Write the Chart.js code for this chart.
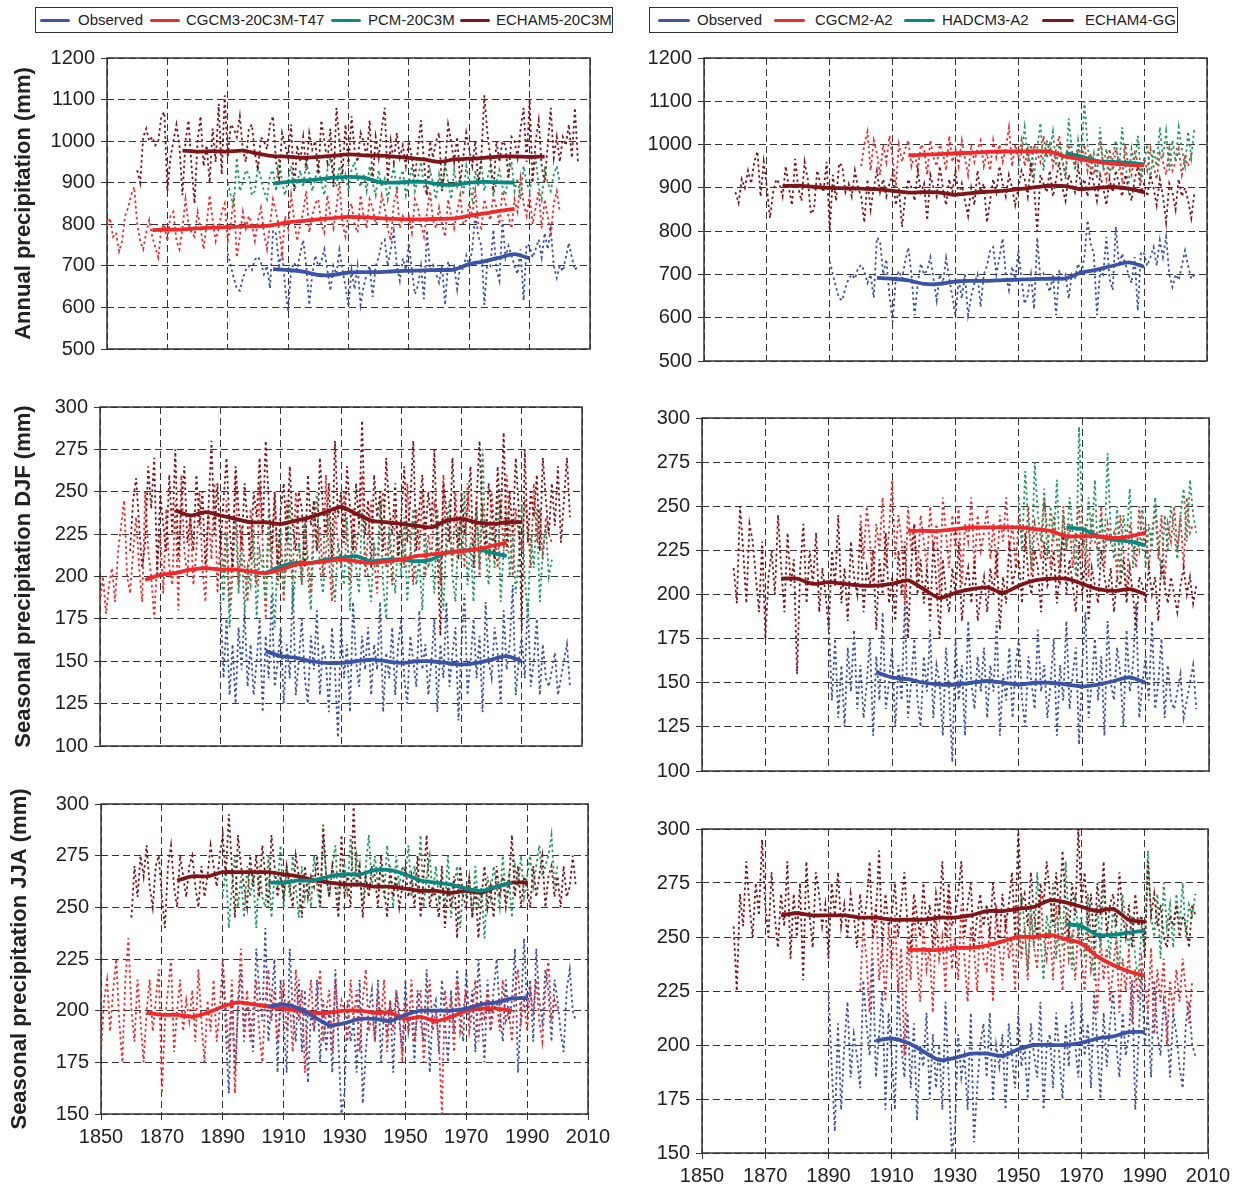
<!DOCTYPE html>
<html>
<head>
<meta charset="utf-8">
<script src="https://cdn.jsdelivr.net/npm/chart.js@4.4.0/dist/chart.umd.min.js"></script>
<style>
  body { margin: 0; background: #fff; width: 1240px; height: 1187px; position: relative; overflow: hidden;
         font-family: "Liberation Sans", Arial, sans-serif; }
  .legend { position: absolute; top: 7px; height: 26px; border: 1px solid #333; box-sizing: border-box; }
  .ln { position: absolute; top: 11px; height: 3px; border-radius: 2px; }
  .tx { position: absolute; top: 3px; font-size: 15px; line-height: 18px; color: #222; white-space: nowrap; }
  canvas { position: absolute; }
</style>
</head>
<body>

<div class="legend" style="left:35px;width:578px;">
  <div class="ln" style="left:4px;width:30px;background:#3d55a7"></div><div class="tx" style="left:42px">Observed</div>
  <div class="ln" style="left:114px;width:30px;background:#ee2a2a"></div><div class="tx" style="left:150px">CGCM3-20C3M-T47</div>
  <div class="ln" style="left:295px;width:30px;background:#0b8782"></div><div class="tx" style="left:332px">PCM-20C3M</div>
  <div class="ln" style="left:424px;width:30px;background:#801518"></div><div class="tx" style="left:460px">ECHAM5-20C3M</div>
</div>
<div class="legend" style="left:649px;width:529px;">
  <div class="ln" style="left:8px;width:32px;background:#3d55a7"></div><div class="tx" style="left:47px">Observed</div>
  <div class="ln" style="left:124px;width:31px;background:#ee2a2a"></div><div class="tx" style="left:165px">CGCM2-A2</div>
  <div class="ln" style="left:254px;width:31px;background:#0b8782"></div><div class="tx" style="left:292px">HADCM3-A2</div>
  <div class="ln" style="left:392px;width:32px;background:#801518"></div><div class="tx" style="left:435px">ECHAM4-GG</div>
</div>

<script>
// x axis: years
const yearMin = 1850, yearMax = 2010, yearStep = 20;

// first year of each annual series, first year of each 30-yr smoothed series (5-yr spacing)
const obsStart = 1890, obsSmoothStart = 1905;
const cgcm3Start = 1850, cgcm3SmoothStart = 1865;
const pcmStart = 1890, pcmSmoothStart = 1905;
const echam5Start = 1860, echam5SmoothStart = 1875;
const cgcm2Start = 1900, cgcm2SmoothStart = 1915;
const hadcm3Start = 1950, hadcm3SmoothStart = 1965;
const echam4Start = 1860, echam4SmoothStart = 1875;

// ---------- observed (same in both columns) ----------
const obsAnnual = [
  730,700,670,645,640,670,690,700,690,715,
  722,708,680,700,646,785,777,700,735,650,
  590,690,708,690,730,762,700,606,680,725,
  700,710,740,690,640,700,680,738,690,650,
  602,690,644,700,606,650,679,700,625,700,
  720,755,763,700,740,783,700,664,718,690,
  755,690,632,652,700,620,785,690,702,680,
  660,700,606,710,690,700,644,700,690,725,
  700,740,825,771,748,606,710,700,787,690,
  664,810,720,748,725,700,680,740,617,752,
  748,720,740,763,720,779,740,787,700,671,
  700,687,720,755,720,690,700];
const obsAnnualSmooth = [692,690,686,678,678,684,685,685,687,688,689,690,691,704,711,720,728,718];

const obsDJF = [
  185,140,175,130,160,125,170,145,180,135,
  160,130,150,175,120,165,140,190,135,150,
  170,125,160,140,195,130,150,175,140,125,
  165,145,180,130,160,150,120,170,145,105,
  175,140,160,120,185,150,135,165,145,170,
  130,160,145,185,120,155,140,170,130,160,
  175,140,125,165,150,135,180,145,160,130,
  150,175,120,160,140,185,135,155,170,115,
  160,190,130,150,175,140,165,120,185,150,
  140,170,155,125,180,145,160,195,130,150,
  165,140,185,135,150,175,130,160,140,135,
  145,155,130,140,150,160,135];
const obsDJFSmooth = [156,153,152,150,149,149,150,151,150,149,150,150,149,148,149,151,153,150];

const obsJJA = [
  225,190,160,210,170,200,220,185,205,195,
  180,230,210,195,240,185,205,225,170,215,
  195,170,230,200,185,215,180,210,165,200,
  190,215,175,205,180,200,170,220,185,150,
  160,205,185,195,170,215,155,180,200,210,
  185,215,175,200,190,205,170,210,195,180,
  215,190,200,175,210,195,185,220,170,200,
  205,180,215,195,175,210,190,220,200,185,
  220,195,210,180,225,200,175,215,190,210,
  225,200,185,215,195,205,230,170,200,235,
  200,215,185,230,205,195,220,210,185,215,
  205,190,180,210,220,200,195];
const obsJJASmooth = [202,203,201,197,193,194,196,196,195,198,200,200,200,201,203,204,206,206];

// ---------- left column: 20C3M runs ----------
const cgcm3Annual = [
  795,815,770,780,735,760,820,840,870,890,
  800,760,740,780,810,770,745,720,790,800,
  760,820,830,760,740,790,860,800,780,770,
  830,790,740,800,870,810,760,790,830,850,
  760,800,870,720,770,830,790,820,800,760,
  810,840,780,740,800,860,830,790,730,820,
  790,870,810,760,800,830,880,780,820,850,
  860,800,780,870,820,790,840,900,800,770,
  830,850,800,780,870,820,790,860,840,800,
  810,870,840,790,760,850,880,790,820,810,
  820,780,860,840,800,770,830,880,810,790,
  840,800,770,860,820,790,830,870,800,810,
  850,820,880,800,790,860,830,810,870,840,
  800,880,850,820,790,860,830,910,850,820,
  870,800,840,880,790,860,820,770,850,880,
  830];
const cgcm3AnnualSmooth = [786,787,788,790,792,793,795,795,798,805,808,812,815,818,817,815,813,812,812,813,814,820,826,832,837];

const pcmAnnual = [
  900,870,840,960,880,900,930,920,870,880,
  940,910,880,860,920,930,880,960,900,870,
  910,940,880,900,930,890,950,920,880,910,
  940,900,870,930,960,910,890,940,900,920,
  880,930,950,910,890,920,880,940,900,870,
  930,890,910,860,900,940,880,910,930,870,
  900,940,880,910,950,890,870,930,900,860,
  920,880,950,900,860,930,890,910,870,940,
  900,860,930,890,950,880,910,940,870,900,
  930,890,870,920,950,880,910,860,940,900,
  880,920,960,890,860,930,900,880,920,940,
  900];
const pcmAnnualSmooth = [898,902,905,908,912,914,912,902,900,902,902,896,895,900,902,901,900];

const echam5Annual = [
  930,900,1010,1030,1000,1010,990,1000,1060,1070,
  880,960,1000,1040,990,870,1000,1050,940,850,
  1000,1060,940,990,900,1030,950,1090,920,1110,
  960,1040,1030,1010,1060,980,950,1030,1040,970,
  930,1010,1000,980,1040,1060,950,910,1020,990,
  960,1040,880,990,950,1010,930,1020,980,1000,
  920,1050,1000,950,1030,890,1080,1000,920,1040,
  940,1060,980,950,1020,1000,960,1050,900,1010,
  960,1030,1080,900,1000,950,1020,960,990,940,
  1000,960,910,980,1050,950,870,1000,960,1000,
  1020,880,940,1040,1000,950,1010,900,960,1020,
  980,940,1000,900,960,1110,1020,960,880,1000,
  950,1000,990,910,1010,1000,960,1030,1080,950,
  1100,900,1000,1050,940,900,990,1080,960,1010,
  950,1010,990,1040,960,1080,950];
const echam5AnnualSmooth = [977,975,976,975,977,970,964,963,960,962,965,968,966,965,963,960,956,950,956,958,960,963,963,962,963];

const cgcm3DJF = [
  185,200,178,195,205,185,215,230,245,200,
  190,215,235,205,185,250,215,200,175,210,
  225,190,240,205,195,245,180,260,215,200,
  235,195,215,250,205,185,240,210,255,190,
  225,200,245,180,215,260,195,230,205,185,
  240,210,195,255,220,175,230,205,250,195,
  220,185,245,210,200,250,225,195,235,210,
  190,245,215,230,200,260,210,185,240,220,
  205,250,225,195,240,215,230,260,200,225,
  245,210,190,235,250,205,225,195,240,215,
  230,205,255,220,195,240,215,250,200,225,
  210,245,225,195,260,215,230,205,250,220,
  235,205,255,225,215,245,200,240,230,210,
  250,225,205,245,215,260,230,200,240,225,
  215,245,230,205,255,220,240,210,235,225,
  220];
const cgcm3DJFSmooth = [198,201,202,204,205,204,204,203,202,204,207,208,209,210,209,208,209,210,212,213,214,215,216,218,220];

const pcmDJF = [
  210,185,225,170,200,235,190,215,180,205,
  195,230,175,215,205,185,240,200,170,215,
  225,190,210,245,180,205,220,195,235,200,
  180,225,250,205,190,215,240,200,185,220,
  210,195,235,180,225,205,190,240,215,200,
  185,220,205,245,195,175,230,210,190,225,
  200,235,185,215,240,195,210,180,225,205,
  215,190,240,205,180,225,245,200,185,230,
  210,250,195,220,185,240,205,275,215,195,
  230,205,250,185,215,240,200,225,190,210,
  245,200,175,225,205,240,185,215,230,200,
  210];
const pcmDJFSmooth = [202,206,208,208,210,211,212,209,210,210,209,210,214,215,216,214,212];

const echam5DJF = [
  215,245,258,230,205,220,265,240,270,200,
  250,230,215,260,225,275,210,240,265,220,
  235,215,260,230,250,205,240,280,225,255,
  215,245,270,230,205,265,240,215,255,230,
  210,250,235,270,225,280,245,215,250,205,
  240,255,220,265,230,215,250,240,205,260,
  230,245,215,270,240,225,255,210,280,235,
  250,220,265,240,215,255,230,292,225,245,
  205,260,235,250,215,270,240,225,255,210,
  235,265,220,245,280,215,240,260,225,250,
  230,275,215,165,255,240,220,270,235,210,
  250,225,240,265,205,245,280,230,215,255,
  240,210,265,230,285,215,250,225,270,240,
  168,275,220,250,235,260,215,270,245,225,
  255,230,265,220,245,270,235];
const echam5DJFSmooth = [239,236,238,236,234,232,232,231,233,235,238,241,237,233,232,231,230,229,233,234,232,231,232,232];

const cgcm3JJA = [
  180,205,215,190,210,225,195,175,215,235,
  200,185,215,195,175,200,215,190,205,220,
  160,195,210,225,180,200,215,190,205,195,
  210,185,220,195,175,205,190,215,185,200,
  225,200,180,215,160,205,230,190,210,185,
  200,215,190,175,205,220,195,210,185,200,
  215,190,205,180,220,195,210,170,200,215,
  190,205,220,185,200,210,180,215,195,205,
  200,185,215,195,210,180,205,220,190,200,
  185,210,195,215,180,205,190,210,200,175,
  205,190,215,185,200,210,175,195,215,190,
  200,185,150,210,195,205,180,215,190,200,
  210,190,200,215,185,205,195,210,190,200,
  205,190,215,195,200,185,210,220,195,205,
  190,210,200,215,195,185,210,225,195,205,
  200];
const cgcm3JJASmooth = [199,198,198,197,199,202,204,203,202,201,200,199,199,200,200,199,199,196,197,195,197,200,201,201,200];

const pcmJJA = [
  255,270,240,260,275,250,265,245,270,255,
  265,240,270,255,250,275,245,265,260,280,
  250,270,255,275,260,245,270,255,265,250,
  275,260,250,285,265,255,270,280,250,265,
  270,255,285,260,275,265,250,270,285,260,
  275,260,270,255,280,265,250,275,260,270,
  265,280,255,270,260,285,250,265,275,255,
  270,255,265,250,275,245,260,270,240,260,
  255,265,245,270,250,260,235,265,255,270,
  260,250,275,255,265,245,270,260,275,255,
  265,275,260,270,280,265,270,275,285,260,
  270];
const pcmJJASmooth = [262,262,263,263,265,266,266,268,268,266,263,262,261,259,258,260,262];

const echam5JJA = [
  245,270,255,275,265,280,260,250,270,275,
  255,240,270,280,260,250,275,265,255,270,
  275,260,250,270,255,265,280,270,260,275,
  285,265,295,270,245,285,270,260,250,275,
  260,275,255,280,265,250,285,270,255,265,
  255,270,260,250,275,265,245,270,255,265,
  260,275,250,290,265,255,270,260,245,285,
  255,265,250,300,260,270,245,265,255,270,
  265,250,275,260,245,270,255,265,250,260,
  270,255,265,250,275,245,265,285,250,260,
  255,245,270,240,260,250,265,235,270,255,
  250,265,245,260,235,255,270,250,260,245,
  270,255,265,250,260,285,255,270,250,265,
  260,250,270,255,265,275,250,265,270,255,
  265,250,270,255,260,275,260];
const echam5JJASmooth = [263,265,265,267,267,267,267,266,265,263,262,261,261,260,260,259,258,258,257,258,257,260,262,262];

// ---------- right column: A2 / GG runs ----------
const cgcm2Annual = [
  950,1000,1030,940,1010,980,930,1000,960,1020,
  970,900,1000,960,990,1010,950,980,940,1000,
  990,930,1010,970,950,1000,980,940,1020,960,
  990,950,1010,970,930,1000,960,990,1010,950,
  980,940,1010,970,1000,960,990,1040,950,1000,
  970,1010,950,990,940,1000,980,960,1020,970,
  1000,950,990,1020,960,930,1000,970,950,990,
  960,1000,940,980,930,970,1010,950,920,990,
  940,990,960,920,1000,950,930,980,960,910,
  970,940,990,950,920,980,960,930,990,940,
  960,990,930,970,950,980];
const cgcm2AnnualSmooth = [975,977,978,980,981,983,984,984,985,984,972,966,960,956,953,952];

const hadcm3Annual = [
  950,980,1040,960,1000,930,990,1050,940,1010,
  980,1030,950,1000,970,920,1060,990,940,1010,
  960,1100,1000,940,980,920,1040,950,990,930,
  970,1010,940,1040,960,900,990,950,1020,930,
  960,1000,920,990,950,1040,970,1030,940,1010,
  960,1040,990,950,1030,970,1040];
const hadcm3AnnualSmooth = [980,972,962,960,958,954];

const echam4Annual = [
  890,865,920,900,940,910,960,984,880,960,
  900,830,890,920,910,880,950,900,860,967,
  900,870,960,920,840,850,940,910,890,960,
  800,930,870,957,950,890,910,880,940,900,
  880,820,920,850,900,940,890,920,880,910,
  930,860,900,810,880,920,900,870,940,890,
  910,825,930,900,880,950,900,860,920,890,
  940,880,910,870,835,900,860,940,890,910,
  820,870,920,890,950,910,880,930,900,860,
  900,940,920,880,960,900,800,930,910,890,
  940,880,920,960,900,870,930,910,890,950,
  900,920,880,940,910,870,930,900,860,920,
  890,940,910,880,930,900,870,920,950,890,
  910,880,930,900,860,920,880,820,910,890,
  850,920,880,900,870,830,890];
const echam4AnnualSmooth = [904,905,902,900,899,898,897,893,889,890,889,884,888,891,893,897,901,905,904,897,900,902,898,890];

const cgcm2DJF = [
  245,220,250,230,205,240,225,255,215,235,
  265,220,245,230,195,250,225,240,210,245,
  230,215,250,225,240,200,255,235,215,245,
  225,250,205,240,230,255,215,245,225,235,
  250,220,240,210,245,230,255,225,240,215,
  245,230,225,250,210,240,230,220,255,235,
  215,245,230,205,250,225,240,215,235,250,
  220,240,210,245,230,225,250,215,240,230,
  235,210,245,225,200,240,230,215,250,225,
  240,215,235,250,220,245,205,240,230,250,
  225,245,215,255,235,240];
const cgcm2DJFSmooth = [236,236,236,237,238,238,238,238,237,236,233,233,233,232,233,235];

const hadcm3DJF = [
  255,225,270,240,215,275,245,230,260,220,
  250,230,265,215,245,225,255,235,210,295,
  240,220,255,230,265,215,245,225,280,235,
  220,250,210,245,230,260,215,235,225,250,
  215,240,225,255,230,210,245,225,250,235,
  220,245,260,230,265,245,235];
const hadcm3DJFSmooth = [238,237,233,231,230,228];

const echam4DJF = [
  215,195,250,225,195,240,230,210,190,230,
  175,210,225,200,245,215,190,235,205,220,
  155,215,240,195,225,205,235,190,215,200,
  180,225,205,245,195,215,185,230,210,200,
  240,190,215,205,225,180,220,200,235,195,
  210,185,225,200,230,175,215,240,200,220,
  195,215,185,230,205,175,220,200,190,215,
  200,230,185,205,215,195,220,185,200,210,
  190,215,200,225,180,210,195,230,205,215,
  220,195,235,210,200,225,215,190,230,205,
  210,225,195,215,235,200,220,205,190,230,
  200,220,185,215,205,195,225,210,200,215,
  190,210,205,220,195,215,200,180,210,205,
  195,215,200,210,185,220,205,195,210,200,
  190,205,215,200,210,195,205];
const echam4DJFSmooth = [209,209,206,207,206,205,205,206,208,203,198,201,203,204,201,205,208,209,209,206,203,202,203,200];

const cgcm2JJA = [
  225,255,240,215,250,265,230,245,220,255,
  235,260,225,245,195,250,230,265,240,220,
  255,235,245,215,260,240,250,225,270,235,
  250,230,265,240,220,255,245,225,260,240,
  235,255,220,265,245,230,260,240,250,225,
  265,240,255,230,260,245,235,270,250,240,
  255,230,265,245,225,260,240,250,230,255,
  240,225,255,235,245,215,250,230,245,220,
  235,250,215,240,225,245,210,235,220,240,
  230,215,245,205,235,220,240,200,230,215,
  235,220,240,225,210,230];
const cgcm2JJASmooth = [244,244,244,245,245,246,248,250,250,251,249,247,241,237,234,232];

const hadcm3JJA = [
  240,270,255,235,265,245,280,250,230,260,
  250,275,240,265,245,285,255,235,270,250,
  260,240,270,250,230,265,245,275,255,240,
  265,250,235,270,255,245,260,240,230,255,
  245,290,260,250,270,240,275,255,265,245,
  270,255,275,250,265,260,270];
const hadcm3JJASmooth = [256,255,251,251,252,253];

const echam4JJA = [
  255,225,270,255,285,265,250,275,260,295,
  265,250,280,260,245,270,255,285,240,270,
  250,275,230,285,260,245,280,270,255,265,
  240,275,260,280,255,265,250,270,260,245,
  270,255,265,285,250,260,290,245,270,255,
  260,275,250,265,280,255,245,270,260,250,
  275,255,265,245,270,260,285,250,275,255,
  260,270,285,250,265,275,245,260,270,255,
  265,250,275,260,245,270,255,265,280,250,
  300,265,270,255,280,260,250,275,265,285,
  270,255,280,260,290,265,250,275,260,300,
  265,280,255,270,245,275,260,285,250,265,
  270,255,280,260,250,265,245,270,255,260,
  240,285,260,270,255,265,250,245,260,255,
  265,250,260,255,245,265,260];
const echam4JJASmooth = [260,261,260,260,260,259,259,258,258,258,259,259,260,262,262,263,264,267,266,264,262,263,258,257];

// ---------- drawing ----------
const COL = {
  obs:   { solid: '#3b53a5', dot: '#3a52aa' },
  red:   { solid: '#ee2a2a', dot: '#f02a2c' },
  teal:  { solid: '#0b8782', dot: '#1f9a5c' },
  dred:  { solid: '#7e1518', dot: '#7f1418' }
};
const FONT = '"Liberation Sans", Arial, sans-serif';

const framePlugin = {
  id: 'frame',
  beforeDatasetsDraw(chart) {
    const a = chart.chartArea, ctx = chart.ctx;
    ctx.save();
    ctx.strokeStyle = '#333';
    ctx.lineWidth = 1.5;
    ctx.strokeRect(a.left, a.top, a.right - a.left, a.bottom - a.top);
    ctx.restore();
  }
};

function pts(values, start, step) {
  return values.map((v, i) => ({ x: start + i * step, y: v }));
}

function makePanel(p) {
  const cv = document.createElement('canvas');
  cv.width = p.box[2];
  cv.height = p.box[3];
  cv.style.left = p.box[0] + 'px';
  cv.style.top = p.box[1] + 'px';
  document.body.appendChild(cv);

  const yW = p.plot[0] - p.box[0];
  const xH = p.xLabels ? p.box[1] + p.box[3] - p.plot[3] : 0;

  const smooth = [], dotted = [];
  p.series.forEach(s => {
    smooth.push({ data: pts(s.smooth, s.smoothStart, 5), borderColor: COL[s.col].solid, borderWidth: 3.8,
                  pointRadius: 0, tension: 0.25, order: 0 });
    dotted.push({ data: pts(s.values, s.start, 1), borderColor: COL[s.col].dot, borderWidth: 1.8,
                  borderDash: [2.5, 3], pointRadius: 0, tension: 0, order: 1 });
  });

  new Chart(cv, {
    type: 'line',
    data: { datasets: smooth.concat(dotted.reverse()) },
    plugins: [framePlugin],
    options: {
      responsive: false,
      animation: false,
      events: [],
      layout: { padding: { left: 0, top: p.plot[1] - p.box[1], right: p.box[0] + p.box[2] - p.plot[2],
                           bottom: p.box[1] + p.box[3] - p.plot[3] - xH } },
      plugins: { legend: { display: false }, tooltip: { enabled: false } },
      scales: {
        x: {
          type: 'linear', min: yearMin, max: yearMax,
          ticks: { display: p.xLabels, stepSize: yearStep, maxRotation: 0, autoSkip: false, padding: 5,
                   color: '#222', font: { family: FONT, size: 20 }, callback: v => String(v) },
          grid: { color: '#333', lineWidth: 1, drawTicks: p.xLabels, tickLength: 6, tickColor: '#333' },
          border: { display: false, dash: [7, 4] },
          afterFit: s => { s.height = xH; s.paddingLeft = 0; s.paddingRight = 0; }
        },
        y: {
          min: p.yMin, max: p.yMax,
          ticks: { stepSize: p.yStep, padding: 6, color: '#222', font: { family: FONT, size: 20 },
                   callback: v => String(v) },
          grid: { color: '#333', lineWidth: 1, tickLength: 6, tickColor: '#333' },
          border: { display: false, dash: [7, 4] },
          title: { display: !!p.title, text: p.title || '', color: '#222',
                   font: { family: FONT, size: 22, weight: 'bold' }, padding: { top: p.titlePad, bottom: 0 } },
          afterFit: s => { s.width = yW; s.paddingTop = 0; s.paddingBottom = 0; }
        }
      }
    }
  });
}

const leftAnnual = [
  { values: obsAnnual, start: obsStart, smooth: obsAnnualSmooth, smoothStart: obsSmoothStart, col: 'obs' },
  { values: cgcm3Annual, start: cgcm3Start, smooth: cgcm3AnnualSmooth, smoothStart: cgcm3SmoothStart, col: 'red' },
  { values: pcmAnnual, start: pcmStart, smooth: pcmAnnualSmooth, smoothStart: pcmSmoothStart, col: 'teal' },
  { values: echam5Annual, start: echam5Start, smooth: echam5AnnualSmooth, smoothStart: echam5SmoothStart, col: 'dred' }
];
const leftDJF = [
  { values: obsDJF, start: obsStart, smooth: obsDJFSmooth, smoothStart: obsSmoothStart, col: 'obs' },
  { values: cgcm3DJF, start: cgcm3Start, smooth: cgcm3DJFSmooth, smoothStart: cgcm3SmoothStart, col: 'red' },
  { values: pcmDJF, start: pcmStart, smooth: pcmDJFSmooth, smoothStart: pcmSmoothStart, col: 'teal' },
  { values: echam5DJF, start: echam5Start, smooth: echam5DJFSmooth, smoothStart: echam5SmoothStart, col: 'dred' }
];
const leftJJA = [
  { values: obsJJA, start: obsStart, smooth: obsJJASmooth, smoothStart: obsSmoothStart, col: 'obs' },
  { values: cgcm3JJA, start: cgcm3Start, smooth: cgcm3JJASmooth, smoothStart: cgcm3SmoothStart, col: 'red' },
  { values: pcmJJA, start: pcmStart, smooth: pcmJJASmooth, smoothStart: pcmSmoothStart, col: 'teal' },
  { values: echam5JJA, start: echam5Start, smooth: echam5JJASmooth, smoothStart: echam5SmoothStart, col: 'dred' }
];
const rightAnnual = [
  { values: obsAnnual, start: obsStart, smooth: obsAnnualSmooth, smoothStart: obsSmoothStart, col: 'obs' },
  { values: cgcm2Annual, start: cgcm2Start, smooth: cgcm2AnnualSmooth, smoothStart: cgcm2SmoothStart, col: 'red' },
  { values: hadcm3Annual, start: hadcm3Start, smooth: hadcm3AnnualSmooth, smoothStart: hadcm3SmoothStart, col: 'teal' },
  { values: echam4Annual, start: echam4Start, smooth: echam4AnnualSmooth, smoothStart: echam4SmoothStart, col: 'dred' }
];
const rightDJF = [
  { values: obsDJF, start: obsStart, smooth: obsDJFSmooth, smoothStart: obsSmoothStart, col: 'obs' },
  { values: cgcm2DJF, start: cgcm2Start, smooth: cgcm2DJFSmooth, smoothStart: cgcm2SmoothStart, col: 'red' },
  { values: hadcm3DJF, start: hadcm3Start, smooth: hadcm3DJFSmooth, smoothStart: hadcm3SmoothStart, col: 'teal' },
  { values: echam4DJF, start: echam4Start, smooth: echam4DJFSmooth, smoothStart: echam4SmoothStart, col: 'dred' }
];
const rightJJA = [
  { values: obsJJA, start: obsStart, smooth: obsJJASmooth, smoothStart: obsSmoothStart, col: 'obs' },
  { values: cgcm2JJA, start: cgcm2Start, smooth: cgcm2JJASmooth, smoothStart: cgcm2SmoothStart, col: 'red' },
  { values: hadcm3JJA, start: hadcm3Start, smooth: hadcm3JJASmooth, smoothStart: hadcm3SmoothStart, col: 'teal' },
  { values: echam4JJA, start: echam4Start, smooth: echam4JJASmooth, smoothStart: echam4SmoothStart, col: 'dred' }
];

// box: canvas [left, top, width, height]; plot: chart area [left, top, right, bottom]
makePanel({ box: [0, 40, 612, 330], plot: [107, 58, 590, 349], yMin: 500, yMax: 1200, yStep: 100,
            title: 'Annual precipitation (mm)', titlePad: 11, series: leftAnnual, xLabels: false });
makePanel({ box: [0, 392, 612, 370], plot: [100, 407, 582, 746], yMin: 100, yMax: 300, yStep: 25,
            title: 'Seasonal precipitation DJF (mm)', titlePad: 11, series: leftDJF, xLabels: false });
makePanel({ box: [0, 788, 620, 399], plot: [101, 804, 588, 1114], yMin: 150, yMax: 300, yStep: 25,
            title: 'Seasonal precipitation JJA (mm)', titlePad: 7, series: leftJJA, xLabels: true });
makePanel({ box: [620, 40, 620, 342], plot: [704, 58, 1207, 361], yMin: 500, yMax: 1200, yStep: 100,
            series: rightAnnual, xLabels: false });
makePanel({ box: [620, 400, 620, 392], plot: [702, 418, 1209, 771], yMin: 100, yMax: 300, yStep: 25,
            series: rightDJF, xLabels: false });
makePanel({ box: [620, 812, 620, 375], plot: [702, 829, 1208, 1153], yMin: 150, yMax: 300, yStep: 25,
            series: rightJJA, xLabels: true });
</script>
</body>
</html>
